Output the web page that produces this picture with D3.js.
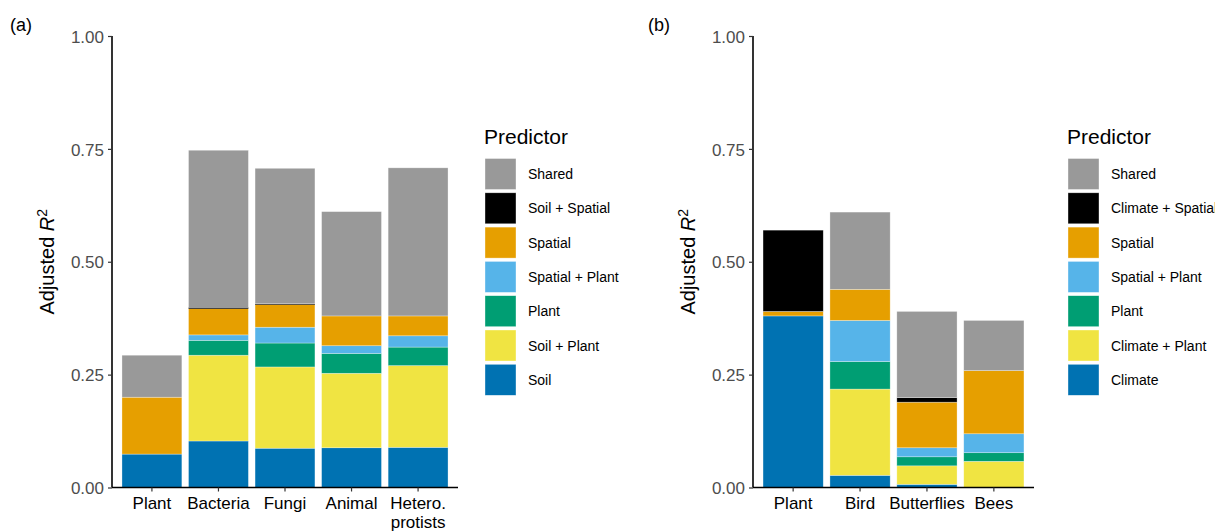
<!DOCTYPE html>
<html><head><meta charset="utf-8">
<script src="https://cdn.jsdelivr.net/npm/d3@7"></script>
<style>
body{margin:0;background:#fff;}
text{font-family:"Liberation Sans",Arial,sans-serif;}
</style></head>
<body><svg id="c" width="1215" height="532"></svg>
<script>
// ---------- data ----------
const categoriesA = ["Plant","Bacteria","Fungi","Animal","Hetero.\nprotists"];
const predictorsA = ["Soil","Soil + Plant","Plant","Spatial + Plant","Spatial","Soil + Spatial","Shared"];
const soilA         = [0.074,0.103,0.087,0.088,0.089];
const soilPlantA    = [0.000,0.190,0.180,0.165,0.181];
const plantA        = [0.000,0.033,0.053,0.044,0.041];
const spatialPlantA = [0.000,0.012,0.035,0.017,0.025];
const spatialA      = [0.126,0.058,0.050,0.066,0.044];
const soilSpatialA  = [0.000,0.003,0.002,0.000,0.000];
const sharedA       = [0.093,0.348,0.300,0.231,0.328];

const categoriesB = ["Plant","Bird","Butterflies","Bees"];
const predictorsB = ["Climate","Climate + Plant","Plant","Spatial + Plant","Spatial","Climate + Spatial","Shared"];
const climateB        = [0.380,0.027,0.007,0.000];
const climatePlantB   = [0.000,0.191,0.041,0.058];
const plantB          = [0.000,0.061,0.020,0.019];
const spatialPlantB   = [0.000,0.091,0.020,0.042];
const spatialB        = [0.010,0.069,0.101,0.140];
const climateSpatialB = [0.180,0.000,0.010,0.000];
const sharedB         = [0.000,0.171,0.191,0.111];

const yTicks = [0,0.25,0.5,0.75,1.0];
const colors = ["#0072B2","#F0E442","#009E73","#56B4E9","#E69F00","#000000","#999999"];

const svg = d3.select("#c");

function panel(opt){
  const {cats, preds, series, x0, x1, label, labelX, titleX, legendX} = opt;
  const yTop = 36, yBot = 487.5;
  const g = svg.append("g");
  const rows = cats.map((c,i)=>{ const r={cat:c}; preds.forEach((p,j)=>r[p]=series[j][i]); return r;});
  const stack = d3.stack().keys(preds)(rows);
  const n = cats.length;
  const unit = (x1-x0)/(n-1+1.2);
  const x = d3.scaleBand().domain(cats).range([x0+0.6*unit-unit/2, x1-0.6*unit+unit/2]).paddingInner(0.1).paddingOuter(0.05);
  const y = d3.scaleLinear().domain([0,1]).range([yBot,yTop]);
  const color = d3.scaleOrdinal().domain(preds).range(colors);

  stack.forEach(layer=>{
    g.append("g").selectAll("rect").data(layer.filter(d=>d[1]-d[0]>0)).join("rect")
      .attr("x",d=>x(d.data.cat)).attr("width",x.bandwidth())
      .attr("y",d=>y(d[1])).attr("height",d=>y(d[0])-y(d[1]))
      .attr("fill",color(layer.key))
      .attr("stroke","#ffffff").attr("stroke-opacity",0.5)
      .attr("stroke-width",d=>(y(d[0])-y(d[1]))<3?0:0.6);
  });

  // y axis
  const ya = g.append("g").attr("transform",`translate(${x0},0)`)
    .call(d3.axisLeft(y).tickValues(yTicks).tickFormat(d3.format(".2f")).tickSizeOuter(0).tickSize(4).tickPadding(4));
  ya.select(".domain").attr("stroke","#000").attr("stroke-width",1.6);
  ya.selectAll(".tick line").attr("stroke","#333").attr("stroke-width",1.2);
  ya.selectAll(".tick text").attr("fill","#4d4d4d").style("font-size","17px").attr("dy","0.36em");
  ya.select(".domain").attr("d",`M0,${yBot}V${yTop}`);

  // x axis
  const xa = g.append("g").attr("transform",`translate(0,${yBot})`)
    .call(d3.axisBottom(x).tickSize(4).tickSizeOuter(0).tickPadding(4).tickFormat(""));
  xa.select(".domain").attr("d",`M${x0},0H${x1}`).attr("stroke","#000").attr("stroke-width",1.6);
  xa.selectAll(".tick line").attr("stroke","#333").attr("stroke-width",1.2);
  cats.forEach(c=>{
    const lines = c.split("\n");
    const t = g.append("text").attr("text-anchor","middle").attr("fill","#000").style("font-size","17px")
      .attr("x",x(c)+x.bandwidth()/2).attr("y",yBot+21);
    lines.forEach((l,i)=>t.append("tspan").attr("x",x(c)+x.bandwidth()/2).attr("dy",i?19:0).text(l));
  });

  // y title
  const yt = g.append("text").attr("transform",`translate(${titleX},${(yTop+yBot)/2}) rotate(-90)`)
    .attr("text-anchor","middle").style("font-size","20px").attr("fill","#000");
  yt.append("tspan").text("Adjusted ");
  yt.append("tspan").attr("font-style","italic").text("R");
  yt.append("tspan").attr("dy","-0.5em").style("font-size","14px").text("2");

  // panel label
  g.append("text").attr("x",labelX).attr("y",31).style("font-size","18px").attr("fill","#000").text(label);

  // legend
  const lg = g.append("g").attr("transform",`translate(${legendX},0)`);
  lg.append("text").attr("x",0).attr("y",144).style("font-size","21px").attr("fill","#000").text("Predictor");
  const lp = preds.slice().reverse();
  lp.forEach((p,i)=>{
    const cy = 174 + i*34.3;
    lg.append("rect").attr("x",1).attr("y",cy-15.5).attr("width",31).attr("height",31).attr("fill",color(p))
      .attr("stroke","#fff").attr("stroke-opacity",0.6).attr("stroke-width",0.6);
    lg.append("text").attr("x",44).attr("y",cy+5).style("font-size","14px").attr("fill","#000").text(p);
  });
}

panel({cats:categoriesA, preds:predictorsA,
  series:[soilA,soilPlantA,plantA,spatialPlantA,spatialA,soilSpatialA,sharedA],
  x0:112, x1:458, label:"(a)", labelX:10, titleX:54, legendX:484});
panel({cats:categoriesB, preds:predictorsB,
  series:[climateB,climatePlantB,plantB,spatialPlantB,spatialB,climateSpatialB,sharedB],
  x0:753, x1:1034, label:"(b)", labelX:648, titleX:695, legendX:1067});
</script></body></html>
